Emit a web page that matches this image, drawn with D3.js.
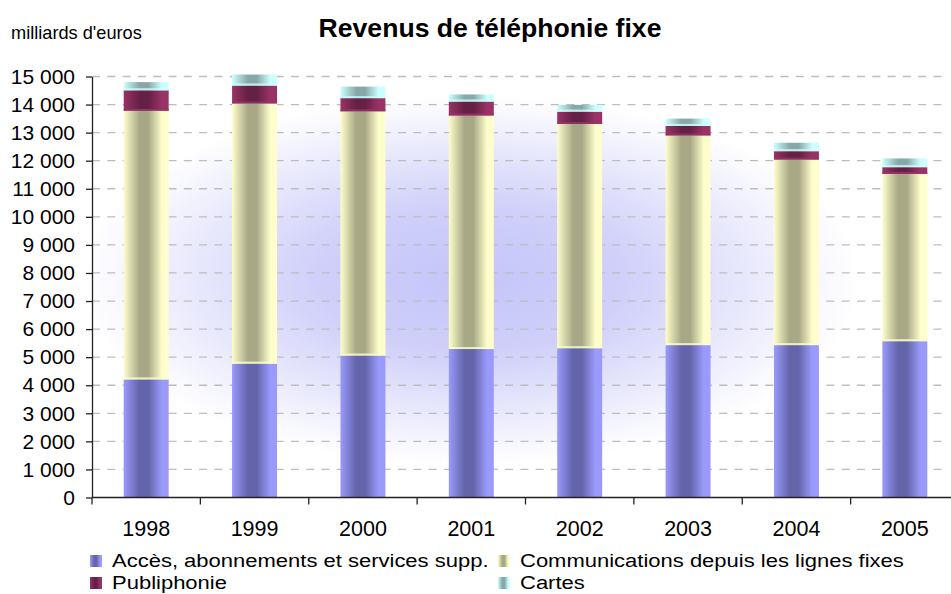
<!DOCTYPE html>
<html lang="fr">
<head>
<meta charset="UTF-8">
<script src="https://d3js.org/d3.v7.min.js"></script>
<title>Revenus de téléphonie fixe</title>
<style>
  body { margin: 0; background: #fff; }
  svg { display: block; font-family: "Liberation Sans", Arial, sans-serif; }
</style>
</head>
<body>
<svg id="chart" width="951" height="594"></svg>
<script>
// data (milliards d'euros)
const years = ["1998", "1999", "2000", "2001", "2002", "2003", "2004", "2005"];
const acces = [4210, 4770, 5060, 5290, 5320, 5430, 5430, 5570];
const communications = [9570, 9270, 8700, 8320, 7990, 7470, 6610, 5960];
const publiphonie = [730, 640, 470, 500, 440, 340, 300, 240];
const cartes = [290, 390, 410, 250, 240, 260, 300, 310];
const yTicks = d3.range(0, 15001, 1000);

const seriesNames = ["Accès, abonnements et services supp.", "Communications depuis les lignes fixes", "Publiphonie", "Cartes"];
const keys = ["acces", "communications", "publiphonie", "cartes"];
// edge colour / centre colour of each cylinder-like bar
const colors = {
  acces: ["#9a9afc", "#6464aa"],
  communications: ["#fefecc", "#a8a886"],
  publiphonie: ["#993366", "#652045"],
  cartes: ["#ccffff", "#88a8a8"]
};

const table = years.map((y, i) => ({
  year: y, acces: acces[i], communications: communications[i],
  publiphonie: publiphonie[i], cartes: cartes[i]
}));

const svg = d3.select("#chart");
const plot = {left: 92, right: 959, top: 76.5, bottom: 497.5};

const x = d3.scaleBand().domain(years).range([plot.left, plot.right])
  .paddingInner(0.585).paddingOuter(0.2925);
const y = d3.scaleLinear().domain([0, 15000]).range([plot.bottom, plot.top]);

const fr = d3.formatLocale({decimal: ",", thousands: " ", grouping: [3], currency: ["", " €"]});
const fmt = fr.format(",d");

const defs = svg.append("defs");

// lavender glow behind the bars
const glow = defs.append("radialGradient").attr("id", "glow")
  .attr("gradientUnits", "userSpaceOnUse")
  .attr("cx", 0).attr("cy", 0).attr("r", 1)
  .attr("gradientTransform", "translate(470,280) scale(390,185)");
glow.append("stop").attr("offset", "0%").attr("stop-color", "#c4c4fa");
glow.append("stop").attr("offset", "40%").attr("stop-color", "#d0d0fa");
glow.append("stop").attr("offset", "100%").attr("stop-color", "#ffffff");

keys.forEach(k => {
  const g = defs.append("linearGradient").attr("id", "grad-" + k)
    .attr("x1", "0%").attr("x2", "100%").attr("y1", "0%").attr("y2", "0%");
  g.append("stop").attr("offset", "0%").attr("stop-color", colors[k][0]);
  g.append("stop").attr("offset", "35%").attr("stop-color", colors[k][1]);
  g.append("stop").attr("offset", "55%").attr("stop-color", colors[k][1]);
  g.append("stop").attr("offset", "85%").attr("stop-color", colors[k][0]);
  g.append("stop").attr("offset", "100%").attr("stop-color", colors[k][0]);
});

svg.append("rect")
  .attr("x", plot.left).attr("y", plot.top)
  .attr("width", 951 - plot.left).attr("height", plot.bottom - plot.top)
  .attr("fill", "url(#glow)");

// gridlines
svg.append("g").selectAll("line")
  .data(yTicks.filter(d => d > 0))
  .join("line")
  .attr("x1", plot.left).attr("x2", 946)
  .attr("y1", d => y(d)).attr("y2", d => y(d))
  .attr("stroke", "#bdbdbd").attr("stroke-width", 1.3)
  .attr("stroke-dasharray", "8,7.3");

// stacked bars
const stack = d3.stack().keys(keys)(table);
const bars = svg.append("g");
stack.forEach(layer => {
  const k = layer.key;
  const g = bars.append("g");
  g.selectAll("rect.seg")
    .data(layer)
    .join("rect")
    .attr("class", "seg")
    .attr("x", d => x(d.data.year))
    .attr("width", x.bandwidth())
    .attr("y", d => y(d[1]))
    .attr("height", d => y(d[0]) - y(d[1]))
    .attr("fill", "url(#grad-" + k + ")");
  // thin light edge at the bottom of each segment
  if (k !== "acces") {
    g.selectAll("rect.edge")
      .data(layer)
      .join("rect")
      .attr("class", "edge")
      .attr("x", d => x(d.data.year))
      .attr("width", x.bandwidth())
      .attr("y", d => y(d[0]) - 2)
      .attr("height", 2)
      .attr("fill", colors[k][0])
      .attr("opacity", 0.8);
  }
});

// y axis
const yAxis = svg.append("g")
  .attr("transform", "translate(" + plot.left + ",0)")
  .call(d3.axisLeft(y).tickValues(yTicks).tickFormat(fmt)
    .tickSize(6).tickSizeOuter(0).tickPadding(11));
yAxis.selectAll("text").attr("font-size", 21).attr("fill", "#000")
  .attr("font-family", "Liberation Sans, Arial, sans-serif");
yAxis.selectAll("line, path").attr("stroke", "#222").attr("stroke-width", 1.3);

// x axis: labels centred, ticks at category boundaries
const xAxis = svg.append("g")
  .attr("transform", "translate(0," + plot.bottom + ")")
  .call(d3.axisBottom(x).tickSize(0).tickPadding(23).tickSizeOuter(0));
xAxis.select(".domain").attr("d", "M" + plot.left + ",0H951")
  .attr("stroke", "#222").attr("stroke-width", 1.3);
xAxis.selectAll("text").attr("font-size", 21.5).attr("fill", "#000")
  .attr("font-family", "Liberation Sans, Arial, sans-serif");
xAxis.selectAll("line.bound")
  .data(d3.range(years.length + 1))
  .join("line")
  .attr("class", "bound")
  .attr("x1", i => plot.left + i * x.step()).attr("x2", i => plot.left + i * x.step())
  .attr("y1", 0).attr("y2", 7)
  .attr("stroke", "#222").attr("stroke-width", 1.3);

// titles
svg.append("text")
  .attr("x", 490).attr("y", 37)
  .attr("text-anchor", "middle")
  .attr("font-size", 26.6).attr("font-weight", "bold")
  .text("Revenus de téléphonie fixe");

svg.append("text")
  .attr("x", 11).attr("y", 39)
  .attr("font-size", 18.2)
  .text("milliards d'euros");

// legend (two rows, text stretched a little to the reference width)
const legendPos = [[90, 555], [498, 555], [90, 577], [498, 577]];
const legend = svg.append("g").selectAll("g")
  .data(keys)
  .join("g")
  .attr("transform", (d, i) => "translate(" + legendPos[i][0] + "," + legendPos[i][1] + ")");
legend.append("rect")
  .attr("width", 12).attr("height", 12)
  .attr("fill", d => "url(#grad-" + d + ")");
legend.append("text")
  .attr("transform", "translate(22,12) scale(1.158,1)")
  .attr("font-size", 19)
  .text((d, i) => seriesNames[i]);
</script>
</body>
</html>
